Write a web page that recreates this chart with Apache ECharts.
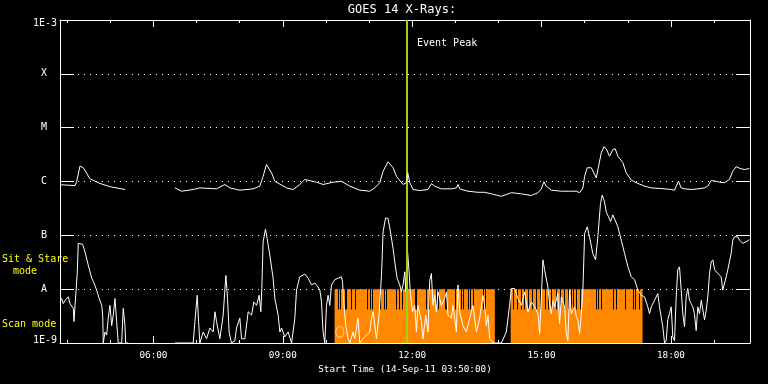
<!DOCTYPE html>
<html><head><meta charset="utf-8">
<script src="https://cdn.jsdelivr.net/npm/echarts@6/dist/echarts.min.js"></script>
<style>html,body{margin:0;padding:0;background:#000;}#c{width:768px;height:384px;}</style>
</head><body><div id="c"></div>
<script>
// time in minutes since 00:00 on 14-Sep-11, flux in W/m^2
const xMin = 230, xMax = 1190;
const hourTicks = [240,300,360,420,480,540,600,660,720,780,840,900,960,1020,1080,1140];
const majorTicks = [360,540,720,900,1080];
const yLabels = ['1E-9','A','B','C','M','X','1E-3'];

const upperT = [230,250.9,253.2,257.8,262.4,271.7,285.6,299.5,320.4,355,389.9,399.2,415.3,424.6,447.8,459.4,460.8,466.3,480.2,498.7,508,512.6,517.3,524.3,528.9,545.2,554.3,563.6,570.6,586.9,596,609.9,621.6,633.2,647.1,661,667.9,674.9,679.5,686.4,693.4,698.1,707.3,712,713.8,716.6,721.2,730.5,742,746.7,751.3,760.6,774.5,781.5,783.7,786.1,797.6,811.5,820.8,830.2,844.1,858,871.9,885.8,894.9,899.7,903.3,906.6,913.5,927.5,939,941.4,948.3,952.9,957.5,959.9,963.6,969.2,976.1,978.3,983.1,986.7,990,994.6,999.2,1002.5,1006.2,1013.1,1017.8,1024.8,1034,1043.3,1052.6,1066.5,1080.4,1085,1087.3,1090.5,1094.3,1098.9,1108.2,1117.4,1126.7,1131.3,1136,1143,1147.5,1154.5,1161.4,1166,1170.7,1177.7,1182.3,1189.2];
const upperV = [8.7e-7,8.4e-7,1.01e-6,1.93e-6,1.80e-6,1.12e-6,9.2e-7,8.0e-7,7.1e-7,null,7.6e-7,6.6e-7,7.1e-7,7.6e-7,7.3e-7,8.8e-7,9.5e-7,7.6e-7,6.9e-7,7.3e-7,8.2e-7,1.25e-6,2.07e-6,1.45e-6,1.01e-6,7.6e-7,7.1e-7,8.8e-7,1.09e-6,9.7e-7,8.8e-7,9.7e-7,1.01e-6,8.2e-7,6.9e-7,6.6e-7,7.6e-7,9.5e-7,1.55e-6,2.32e-6,1.80e-6,1.25e-6,8.8e-7,9.5e-7,1.45e-6,9.5e-7,7.1e-7,6.8e-7,7.1e-7,9.1e-7,8.2e-7,7.3e-7,7.3e-7,7.6e-7,8.8e-7,7.3e-7,6.6e-7,6.3e-7,6.3e-7,5.9e-7,5.3e-7,6.2e-7,5.9e-7,5.5e-7,6.2e-7,7.3e-7,9.9e-7,8.2e-7,6.9e-7,6.6e-7,6.6e-7,7.1e-7,6.6e-7,6.2e-7,7.6e-7,1.25e-6,1.80e-6,1.80e-6,1.17e-6,1.25e-6,3.42e-6,4.41e-6,4.05e-6,2.95e-6,3.93e-6,4.05e-6,2.95e-6,2.23e-6,1.45e-6,1.06e-6,9.2e-7,8.2e-7,7.6e-7,7.4e-7,7.1e-7,6.9e-7,8.2e-7,1.01e-6,7.6e-7,7.3e-7,7.1e-7,7.3e-7,7.6e-7,8.2e-7,1.04e-6,1.01e-6,9.7e-7,9.5e-7,1.09e-6,1.55e-6,1.88e-6,1.72e-6,1.67e-6,1.74e-6];

const lowerT = [230,232.3,234.6,237,239.3,241.5,243.9,246.3,248.5,249.5,250.9,252.2,254.1,255.4,257.8,261.5,264.8,269.3,274.1,276.3,278.7,281,284.6,288,289.4,290.2,292.6,294.9,297.1,299.5,301.9,304.1,306.5,308.8,311,315.8,318,320.4,321.3,325,355,390,415.3,417.7,420.9,422.8,424.6,429.2,433.9,438.5,443.1,445.6,447.8,452.4,457,460.8,463.1,465.3,468.6,473.3,475.6,480.2,482.6,487.2,491.8,496.5,499.7,503.5,507,509.4,510.8,512.6,515.9,518.2,521.9,526.5,528.9,533.5,535.9,538.3,542.8,547.4,552.2,554.3,556.7,559.1,563.6,570.6,575.2,579.9,584.5,589.1,591.5,593.8,596,598.4,600.8,603,605.4,607.7,612.3,616.9,621.6,623,624.8,627.6,630.8,633.2,637.8,640.1,644.7,647.1,651.7,656.4,661,663.4,665.6,670.3,673.9,677.3,679.5,682.9,686.4,689.8,693.4,695.8,699,702.7,705.1,707.3,709.7,711.1,712.9,714.3,715.7,717.6,720.4,723.5,725.9,728.1,732.8,735,738.8,742,744.3,746.7,748.9,751.3,753.6,755.9,760.6,765.2,767.6,769.8,774.5,776.7,781.5,783.7,786.1,790.6,795.4,800,804.6,809.3,813.9,818.5,820.8,823.2,825.4,827.8,832.4,844.1,851,855.5,858,862.5,867.1,871.9,876.5,881,885.8,890.4,895,897.3,899.7,901.9,904.2,908.8,911.2,913.5,915.8,918.1,922.7,925.1,927.5,932,934.4,936.6,939,941.4,946,948.3,950.5,952.9,955.3,957.5,959.9,963.6,966.7,971.3,975.1,978.3,982,984.4,987.6,990,993.2,996,999.2,1001.6,1006.2,1010.9,1015.5,1020.1,1024.8,1029.4,1034,1038.7,1040.9,1043.3,1045.6,1047.8,1050.2,1052.6,1057.2,1061.7,1064.1,1066.5,1068.7,1071.1,1073.4,1075.6,1078,1080.4,1082.6,1085,1087.3,1089.5,1091.9,1094.3,1096.5,1098.9,1101.2,1103.4,1105.8,1108.2,1110.4,1112.7,1115.1,1117.4,1119.7,1122.2,1124.4,1126.7,1129.1,1131.3,1133.7,1136,1138.3,1140.7,1145.2,1147.5,1149.9,1152.1,1154.5,1156.9,1159.1,1161.4,1163.8,1166,1168.4,1173,1175.4,1177.7,1180,1182.3,1184.7,1186.9,1189.2];
const lowerV = [5.8e-9,6.7e-9,5.4e-9,6.2e-9,5.8e-9,7.2e-9,5.4e-9,5.8e-9,4.4e-9,2.5e-9,5.0e-9,8.9e-9,2.1e-8,7.1e-8,7.6e-8,6.8e-8,4.9e-8,2.8e-8,1.6e-8,1.4e-8,1.5e-8,9.6e-9,6.7e-9,5.0e-9,3.3e-9,1e-9,1.6e-9,1.4e-9,2.9e-9,5.0e-9,2.1e-9,3.3e-9,6.7e-9,2.5e-9,1e-9,1e-9,4.4e-9,2.1e-9,1e-9,1e-9,null,1e-9,1e-9,2.5e-9,7.7e-9,2.5e-9,1e-9,1.6e-9,1.2e-9,1.9e-9,1.6e-9,3.8e-9,2.5e-9,1.2e-9,3.3e-9,1.8e-8,6.7e-9,1.6e-9,1e-9,1.1e-9,1.9e-9,2.9e-9,1.2e-9,1.2e-9,3.8e-9,3.3e-9,5.8e-9,5.0e-9,7.7e-9,3.8e-9,1.03e-8,7.6e-8,1.3e-7,8.7e-8,4.3e-8,1.6e-8,6.7e-9,3.3e-9,1.6e-9,1.9e-9,1.3e-9,1.6e-9,1e-9,1e-9,2.9e-9,9.6e-9,1.7e-8,1.9e-8,1.6e-8,1.2e-8,1.3e-8,1.1e-8,9.6e-9,5.8e-9,1.6e-9,1e-9,5.0e-9,7.7e-9,5.0e-9,1.2e-8,1.5e-8,1.6e-8,1.7e-8,1.4e-8,5.8e-9,2.1e-9,1.2e-9,1e-9,1.6e-9,1.2e-9,2.9e-9,1e-9,1.2e-9,1.4e-9,1.6e-9,2.9e-9,3.8e-9,1.2e-9,3.3e-9,1.8e-8,1.16e-7,2.1e-7,2.06e-7,1.16e-7,5.7e-8,3.2e-8,1.6e-8,1.2e-8,8.9e-9,1.2e-8,2.1e-8,8.9e-9,6.6e-8,6.8e-8,2.1e-8,7.7e-9,3.8e-9,5.0e-9,1.6e-9,5.0e-9,2.5e-9,1.2e-9,3.3e-9,1.6e-9,1.4e-8,1.96e-8,5.0e-9,7.7e-9,3.8e-9,8.9e-9,5.0e-9,6.7e-9,8.9e-9,3.3e-9,2.9e-9,5.0e-9,1.6e-9,1.2e-8,3.8e-9,2.1e-9,1.6e-9,2.9e-9,5.0e-9,1.6e-9,2.9e-9,7.7e-9,5.0e-9,2.1e-9,3.3e-9,1.2e-9,1e-9,1e-9,1.6e-9,5.0e-9,1.03e-8,1.03e-8,6.7e-9,5.0e-9,8.9e-9,3.8e-9,5.8e-9,4.7e-9,3.5e-9,1.5e-9,7.2e-9,3.5e-8,2.3e-8,1.1e-8,5.4e-9,3.5e-9,6.2e-9,4.7e-9,8.3e-9,2.3e-9,7.2e-9,4.7e-9,1.5e-9,1.1e-9,9.6e-9,3.5e-9,4.7e-9,3.1e-9,2.7e-9,1.5e-9,3.5e-9,9.6e-9,1.08e-7,1.44e-7,9.4e-8,4.6e-8,3.5e-8,9.4e-8,3.9e-7,5.6e-7,4.2e-7,2.7e-7,2.2e-7,1.8e-7,2.4e-7,2.5e-7,1.44e-7,8.1e-8,4.6e-8,2.6e-8,1.7e-8,1.5e-8,9.6e-9,7.7e-9,8.3e-9,7.2e-9,7.7e-9,4.7e-9,3.5e-9,4.7e-9,6.2e-9,8.3e-9,4.7e-9,4.7e-9,2.0e-9,1e-9,1.1e-9,2.7e-9,3.5e-9,4.7e-9,1.3e-9,1.1e-9,7.2e-9,2.3e-8,2.6e-8,9.6e-9,3.5e-9,2.0e-9,7.2e-9,1.03e-8,6.2e-9,5.4e-9,4.7e-9,3.5e-9,1.7e-9,4.7e-9,3.5e-9,6.2e-9,4.1e-9,2.7e-9,4.1e-9,7.2e-9,1.96e-8,3.2e-8,3.5e-8,2.3e-8,1.96e-8,1.8e-8,1.7e-8,9.6e-9,8.9e-9,1.7e-8,2.3e-8,2.3e-8,4.6e-8,8.1e-8,9.4e-8,9.4e-8,8.1e-8,7.6e-8,7.1e-8,6.6e-8,7.6e-8,8.1e-8,8.3e-8];

// scan-mode intervals (start, end) in minutes, drawn from 1e-9 up to the A level
const scanStart = [612, 857];
const scanEnd = [835, 1040.5];
const scanLow = 1e-9, scanHigh = 1e-8, gapLow = 4.2e-9;
// short dark marks inside scan intervals
const gapTimes = [616.9,620.2,626.2,628.6,635.5,641.1,657.8,661,664.7,674.9,680.8,683.2,698.1,701.3,705.4,723.5,725.9,739.8,743,753.7,755.9,765.2,767.6,779.1,788.4,790.7,797.6,800,804.6,818.5,820.8,859.8,865.7,871.3,875.1,881.6,886.2,892.7,897.3,904.2,908.8,913.6,919.5,925.1,930.7,936.6,940.4,943.6,948.3,952.9,975.8,978.6,982.8,999.2,1003.6,1015.5,1027,1029.8,1034.9];
const eventTime = 712.4;
const markerPoint = [619.3, 1.6e-9];

const FONT = '"DejaVu Sans Mono", monospace';
const fmtTime = v => String(Math.floor(v/60)).padStart(2,'0') + ':' + String(Math.round(v%60)).padStart(2,'0');

const upperData = upperT.map((t,i)=>[t, upperV[i]]);
const lowerData = lowerT.map((t,i)=>[t, lowerV[i]]);
const scanData = scanStart.map((s,i)=>[s, scanEnd[i], scanLow, scanHigh]);
const gapData = gapTimes.map(t=>[t, scanHigh, gapLow]);

const chart = echarts.init(document.getElementById('c'), null, {renderer:'canvas'});
const xBase = {type:'value', min:xMin, max:xMax, splitLine:{show:false}};
chart.setOption({
  backgroundColor:'#000',
  animation:false,
  grid:{left:60, right:18, top:20, bottom:41},
  xAxis:[
    Object.assign({}, xBase, {position:'bottom',
      axisLine:{show:true, lineStyle:{color:'#fff', width:1}},
      axisTick:{show:true, inside:true, length:7, customValues:majorTicks, lineStyle:{color:'#fff'}},
      axisLabel:{show:true, customValues:majorTicks, formatter:fmtTime, color:'#fff', fontFamily:'DejaVu Sans Mono', fontSize:9.3, margin:8},
      name:'Start Time (14-Sep-11 03:50:00)', nameLocation:'middle', nameGap:21,
      nameTextStyle:{color:'#fff', fontFamily:'DejaVu Sans Mono', fontSize:9.3}}),
    Object.assign({}, xBase, {position:'bottom',
      axisLine:{show:false},
      axisTick:{show:true, inside:true, length:3, customValues:hourTicks, lineStyle:{color:'#fff'}},
      axisLabel:{show:false}}),
    Object.assign({}, xBase, {position:'top',
      axisLine:{show:true, lineStyle:{color:'#fff', width:1}},
      axisTick:{show:true, inside:true, length:7, customValues:majorTicks, lineStyle:{color:'#fff'}},
      axisLabel:{show:false}}),
    Object.assign({}, xBase, {position:'top',
      axisLine:{show:false},
      axisTick:{show:true, inside:true, length:3, customValues:hourTicks, lineStyle:{color:'#fff'}},
      axisLabel:{show:false}})
  ],
  yAxis:[
    {type:'log', logBase:10, min:1e-9, max:1e-3, position:'left',
     axisLine:{show:true, lineStyle:{color:'#fff'}},
     axisTick:{show:true, inside:true, length:14, lineStyle:{color:'#fff'}},
     minorTick:{show:false},
     splitLine:{show:true, lineStyle:{color:'#fff', type:[1,5], width:1}},
     axisLabel:{color:'#fff', margin:3, fontFamily:'DejaVu Sans Mono', fontSize:10,
       formatter:v=>{
         const k = Math.round(Math.log10(v))+9, s = yLabels[k];
         if (s.length===1) return '{l|'+s+'}';
         return k===0 ? '{b|'+s+'}' : '{t|'+s+'}';
       },
       rich:{
         l:{color:'#fff', fontFamily:'DejaVu Sans Mono', fontSize:10, padding:[0,10,0,0]},
         t:{color:'#fff', fontFamily:'DejaVu Sans Mono', fontSize:10, padding:[6,0,0,0]},
         b:{color:'#fff', fontFamily:'DejaVu Sans Mono', fontSize:10, padding:[0,0,6,0]}
       }}},
    {type:'log', logBase:10, min:1e-9, max:1e-3, position:'right',
     axisLine:{show:true, lineStyle:{color:'#fff'}},
     axisTick:{show:true, inside:true, length:14, lineStyle:{color:'#fff'}},
     splitLine:{show:false}, axisLabel:{show:false}}
  ],
  series:[
    {type:'custom', name:'scan', xAxisIndex:0, yAxisIndex:0, z:1, silent:true,
     encode:{x:[0,1], y:[2,3]},
     renderItem:(params, api)=>{
       const p0 = api.coord([api.value(0), api.value(3)]);
       const p1 = api.coord([api.value(1), api.value(2)]);
       return {type:'rect', shape:{x:p0[0], y:p0[1], width:p1[0]-p0[0], height:p1[1]-p0[1]}, style:{fill:'#ff8800'}};
     }, data:scanData},
    {type:'custom', name:'gaps', xAxisIndex:0, yAxisIndex:0, z:2, silent:true,
     encode:{x:0, y:[1,2]},
     renderItem:(params, api)=>{
       const p0 = api.coord([api.value(0), api.value(1)]);
       const p1 = api.coord([api.value(0), api.value(2)]);
       const x = Math.round(p0[0]) + 0.5;
       return {type:'line', shape:{x1:x, y1:p0[1], x2:x, y2:p1[1]}, style:{stroke:'#000', lineWidth:1}};
     }, data:gapData},
    {type:'scatter', name:'marker', z:3, silent:true, symbol:'circle', symbolSize:[8,11],
     itemStyle:{color:'rgba(0,0,0,0)', borderColor:'#ffe6cc', borderWidth:1},
     data:[markerPoint]},
    {type:'line', name:'lower', z:4, showSymbol:false, symbol:'none', connectNulls:false,
     lineStyle:{color:'#fff', width:1}, data:lowerData, silent:true},
    {type:'line', name:'upper', z:5, showSymbol:false, symbol:'none', connectNulls:false,
     lineStyle:{color:'#fff', width:1}, data:upperData, silent:true,
     markLine:{silent:true, symbol:'none', label:{show:false},
       lineStyle:{color:'#a4d20a', width:2, type:'solid'},
       data:[{xAxis:eventTime}]}}
  ],
  graphic:[
    {type:'text', x:402, y:10, style:{text:'GOES 14 X-Rays:', fill:'#fff', font:'12px '+FONT, align:'center', verticalAlign:'middle'}},
    {type:'text', x:417, y:43, style:{text:'Event Peak', fill:'#fff', font:'10px '+FONT, align:'left', verticalAlign:'middle'}},
    {type:'text', x:2, y:259, style:{text:'Sit & Stare', fill:'#ffff00', font:'10px '+FONT, align:'left', verticalAlign:'middle'}},
    {type:'text', x:13, y:271, style:{text:'mode', fill:'#ffff00', font:'10px '+FONT, align:'left', verticalAlign:'middle'}},
    {type:'text', x:2, y:324, style:{text:'Scan mode', fill:'#ffff00', font:'10px '+FONT, align:'left', verticalAlign:'middle'}}
  ]
});
</script></body></html>
